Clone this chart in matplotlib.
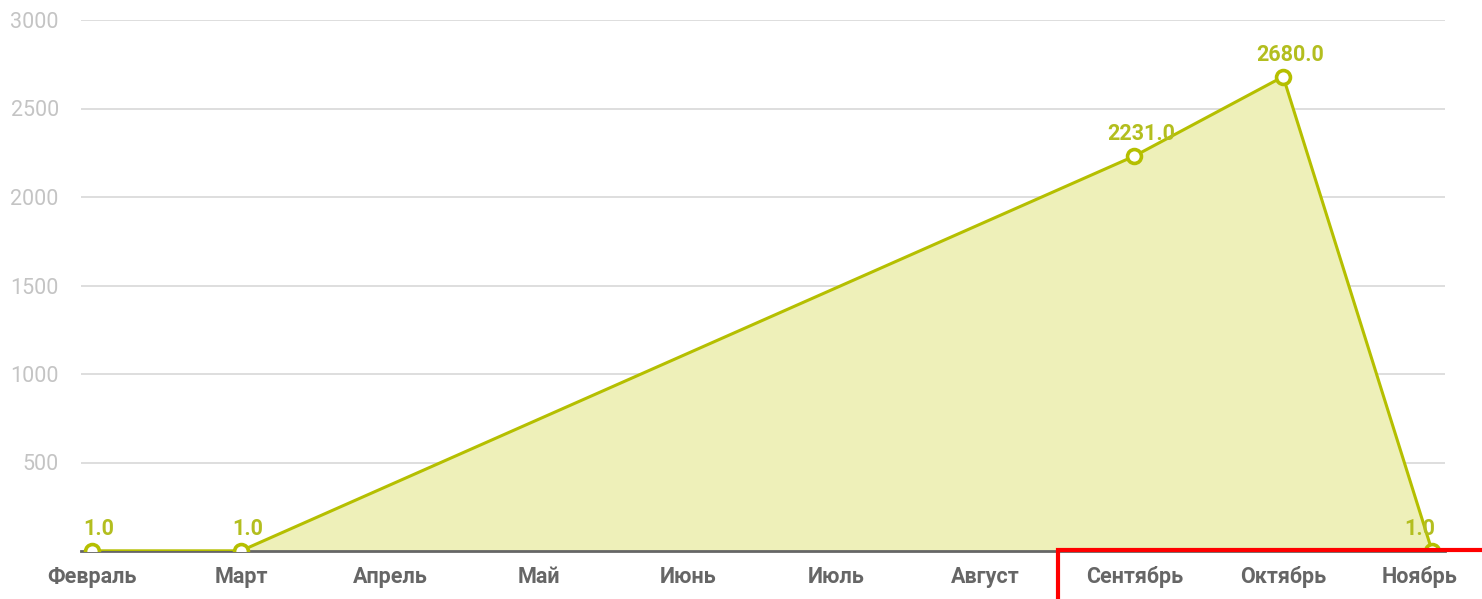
import numpy as np
import matplotlib
matplotlib.use("Agg")
import matplotlib.pyplot as plt
import matplotlib.transforms as mtransforms
from matplotlib.patches import Rectangle

months = ["Февраль", "Март", "Апрель", "Май", "Июнь", "Июль", "Август",
          "Сентябрь", "Октябрь", "Ноябрь"]
values = [1.0, 1.0, None, None, None, None, None, 2231.0, 2680.0, 1.0]
y_ticks = [500, 1000, 1500, 2000, 2500, 3000]

plt.rcParams['font.family'] = ['Roboto', 'DejaVu Sans']

W, H = 1482, 599
fig = plt.figure(figsize=(W / 100, H / 100), dpi=100)
ax = fig.add_axes([81 / W, (H - 551) / H, (1445 - 81) / W, (551 - 20) / H])

line_c = "#b5bf00"
fill_c = "#eef0b9"
lbl_c = "#b3be1f"

xs = np.array([i for i, v in enumerate(values) if v is not None], dtype=float)
ys = np.array([v for v in values if v is not None], dtype=float)

ax.fill_between(xs, 0, ys, color=fill_c, lw=0, zorder=1)
ax.plot(xs, ys, color=line_c, lw=2.2, zorder=3)
ax.plot(xs, ys, ls="none", marker="o", ms=10, mfc="white", mec=line_c,
        mew=2.6, zorder=4)
n = len(xs)
for k, (x, y) in enumerate(zip(xs, ys)):
    if k == n - 1:
        ax.annotate(f"{y:.1f}", (x, y), xytext=(2, 8), textcoords="offset points",
                    ha="right", va="bottom", color=lbl_c, fontsize=15.5,
                    fontweight="bold", zorder=5)
    else:
        ax.annotate(f"{y:.1f}", (x, y), xytext=(5, 8), textcoords="offset points",
                    ha="center", va="bottom", color=lbl_c, fontsize=15.5,
                    fontweight="bold", zorder=5)

ax.set_xlim(-0.074, 9.087)
ax.set_ylim(0, 3000)
ax.set_yticks(y_ticks)
ax.set_yticklabels([str(t) for t in y_ticks])
ax.set_xticks(range(len(months)))
ax.set_xticklabels(months)
ax.yaxis.grid(True, color="#d4d4d4", lw=1.1, zorder=0)
ax.set_axisbelow(True)
for s in ["top", "right", "left"]:
    ax.spines[s].set_visible(False)
ax.spines["bottom"].set_color("#666666")
ax.spines["bottom"].set_linewidth(2)
ax.spines["bottom"].set_zorder(2)
ax.tick_params(axis="y", length=0, pad=16, labelsize=15.5, labelcolor="#c4c4c4")
ax.tick_params(axis="x", length=0, pad=11, labelsize=15.5, labelcolor="#666666")
xt = ax.get_xticklabels()
for t in xt:
    t.set_fontweight("bold")
xt[-1].set_transform(xt[-1].get_transform() +
                     mtransforms.ScaledTranslation(-0.13, 0, fig.dpi_scale_trans))

fig.patches.append(Rectangle((1058 / W, -0.05), (W - 1058 + 20) / W, (H - 550) / H + 0.05,
                             transform=fig.transFigure, fill=False,
                             edgecolor="#ff0000", lw=3, zorder=10))

fig.savefig("out.png", dpi=100)
